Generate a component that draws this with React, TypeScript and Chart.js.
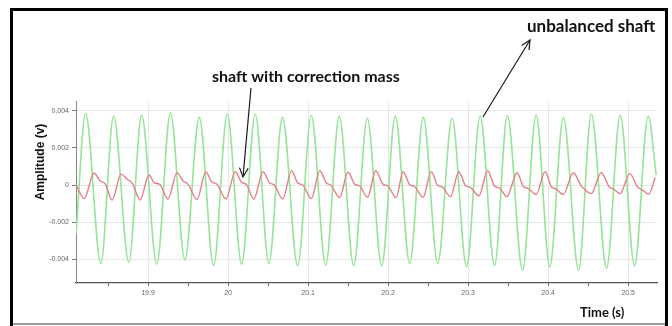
import React, { useEffect, useRef } from 'react';
import { Chart, registerables } from 'chart.js';
Chart.register(...registerables);

// Unbalanced shaft (green) – peak / trough readings
const greenTime = [19.810, 19.822, 19.841, 19.857, 19.876, 19.892, 19.911, 19.928, 19.946, 19.964, 19.982, 19.999, 20.017, 20.034, 20.051, 20.068, 20.087, 20.104, 20.122, 20.139, 20.157, 20.174, 20.192, 20.209, 20.227, 20.244, 20.262, 20.280, 20.298, 20.315, 20.333, 20.349, 20.368, 20.385, 20.402, 20.419, 20.438, 20.454, 20.473, 20.490, 20.508, 20.525, 20.535];
const greenAmp = [-0.00264, 0.00386, -0.00422, 0.00372, -0.00417, 0.00376, -0.00426, 0.00390, -0.00404, 0.00365, -0.00435, 0.00383, -0.00426, 0.00383, -0.00422, 0.00365, -0.00435, 0.00376, -0.00431, 0.00372, -0.00435, 0.00360, -0.00435, 0.00372, -0.00422, 0.00365, -0.00422, 0.00360, -0.00440, 0.00372, -0.00435, 0.00375, -0.00458, 0.00377, -0.00440, 0.00365, -0.00458, 0.00383, -0.00449, 0.00377, -0.00435, 0.00372, 0.00054];

// Shaft with correction mass (red)
const redTime = [19.8102,
  19.8202, 19.8326, 19.8401, 19.8464, 19.8551, 19.8663, 19.8744, 19.8807,
  19.8900, 19.9012, 19.9081, 19.9143, 19.9249, 19.9362, 19.9437, 19.9499,
  19.9611, 19.9723, 19.9798, 19.9861, 19.9973, 20.0091, 20.0166, 20.0229,
  20.0322, 20.0438, 20.0516, 20.0578, 20.0684, 20.0793, 20.0871, 20.0933,
  20.1042, 20.1146, 20.1227, 20.1283, 20.1395, 20.1499, 20.1582, 20.1645,
  20.1744, 20.1844, 20.1935, 20.1998, 20.2100, 20.2187, 20.2268, 20.2331,
  20.2437, 20.2539, 20.2617, 20.2680, 20.2780, 20.2883, 20.2967, 20.3029,
  20.3135, 20.3245, 20.3328, 20.3391, 20.3484, 20.3612, 20.3690, 20.3753,
  20.3849, 20.3961, 20.4039, 20.4102, 20.4189, 20.4314, 20.4408, 20.4464,
  20.4538, 20.4663, 20.4763, 20.4825, 20.4900, 20.5019, 20.5116, 20.5187,
  20.5256, 20.5337];
const redAmp = [0,
  -0.00073, 0.00065, 0.00022, 0.00008, -0.00081, 0.00059, 0.00030, 0.00008,
  -0.00081, 0.00054, 0.00011, 0.00005, -0.00075, 0.00067, 0.00022, 0.00005,
  -0.00078, 0.00070, 0.00016, 0.00005, -0.00075, 0.00072, 0.00016, 0.00003,
  -0.00075, 0.00072, 0.00013, 0, -0.00075, 0.00077, 0.00011, 0,
  -0.00073, 0.00077, 0.00012, 0, -0.00067, 0.00070, 0.00005, -0.00005,
  -0.00066, 0.00077, 0.00005, -0.00005, -0.00067, 0.00072, 0.00003, -0.00008,
  -0.00066, 0.00072, 0, -0.00011, -0.00063, 0.00072, -0.00003, -0.00013,
  -0.00058, 0.00077, -0.00005, -0.00016, -0.00063, 0.00066, -0.00008, -0.00019,
  -0.00051, 0.00072, -0.00008, -0.00022, -0.00051, 0.00066, 0, -0.00027,
  -0.00046, 0.00066, -0.00009, -0.00024, -0.00046, 0.00063, -0.00009, -0.00030,
  -0.00049, 0.00040];

const xMajorTicks = [19.9, 20, 20.1, 20.2, 20.3, 20.4, 20.5];
const xMajorLabels = ['19.9', '20', '20.1', '20.2', '20.3', '20.4', '20.5'];
const xMinorTicks = [19.85, 19.95, 20.05, 20.15, 20.25, 20.35, 20.45];
const yTicks = [-0.004, -0.002, 0, 0.002, 0.004];
const yLabels = ['-0.004', '-0.002', '0', '0.002', '0.004'];

const yTitle = 'Amplitude (v)';
const xTitle = 'Time (s)';
const noteRed = 'shaft with correction mass';
const noteGreen = 'unbalanced shaft';

const isMajor = (v: number) => xMajorTicks.some(m => Math.abs(m - v) < 1e-6);

function arrow(ctx: CanvasRenderingContext2D, x1: number, y1: number, x2: number, y2: number) {
  ctx.beginPath();
  ctx.moveTo(x1, y1);
  ctx.lineTo(x2, y2);
  ctx.stroke();
  const a = Math.atan2(y2 - y1, x2 - x1);
  const l = 10, w = 0.45;
  ctx.beginPath();
  ctx.moveTo(x2 - l * Math.cos(a - w), y2 - l * Math.sin(a - w));
  ctx.lineTo(x2, y2);
  ctx.lineTo(x2 - l * Math.cos(a + w), y2 - l * Math.sin(a + w));
  ctx.stroke();
}

const decor = {
  id: 'decor',
  afterDraw(chart: any) {
    const ctx: CanvasRenderingContext2D = chart.ctx;
    ctx.save();
    // frame
    ctx.fillStyle = '#000';
    ctx.fillRect(10, 8, 658, 3);
    ctx.fillRect(10, 8, 3, 318);
    ctx.fillRect(665, 8, 3, 318);
    ctx.fillStyle = '#9a9a9a';
    ctx.fillRect(13, 323, 652, 2);
    // texts
    ctx.fillStyle = '#111';
    ctx.textBaseline = 'middle';
    ctx.textAlign = 'left';
    ctx.font = 'bold 17px Lato';
    ctx.fillText(noteGreen, 527, 27);
    ctx.font = 'bold 16px Lato';
    ctx.fillText(noteRed, 212, 77);
    ctx.font = 'bold 13px Lato';
    ctx.fillText(xTitle, 580, 313);
    ctx.save();
    ctx.translate(41, 162);
    ctx.rotate(-Math.PI / 2);
    ctx.textAlign = 'center';
    ctx.font = 'bold 12px "Liberation Sans"';
    ctx.fillText(yTitle, 0, 0);
    ctx.restore();
    // arrows
    ctx.strokeStyle = '#1a1a1a';
    ctx.lineWidth = 1.2;
    arrow(ctx, 251, 88, 243, 177);
    arrow(ctx, 483, 117, 530, 40);
    ctx.restore();
  },
};

export default function App() {
  const ref = useRef<HTMLCanvasElement>(null);
  useEffect(() => {
    document.body.style.margin = '0';
    document.body.style.overflow = 'hidden';
    const chart = new Chart(ref.current!, {
      type: 'line',
      data: {
        datasets: [
          {
            label: 'shaft with correction mass',
            data: redTime.map((t, i) => ({ x: t, y: redAmp[i] })),
            borderColor: 'rgb(228,128,138)',
            borderWidth: 1.4,
            pointRadius: 0,
            cubicInterpolationMode: 'monotone',
            fill: false,
          },
          {
            label: 'unbalanced shaft',
            data: greenTime.map((t, i) => ({ x: t, y: greenAmp[i] })),
            borderColor: 'rgb(150,228,150)',
            borderWidth: 1.6,
            pointRadius: 0,
            cubicInterpolationMode: 'monotone',
            fill: false,
          },
        ],
      },
      options: {
        animation: false,
        responsive: false,
        maintainAspectRatio: false,
        layout: { padding: { top: 101, right: 15, left: 0, bottom: 0 } },
        plugins: { legend: { display: false }, tooltip: { enabled: false } },
        scales: {
          x: {
            type: 'linear',
            min: 19.81,
            max: 20.536,
            afterFit: (s: any) => { s.height = 43; },
            afterBuildTicks: (s: any) => {
              s.ticks = [...xMajorTicks, ...xMinorTicks].sort((a, b) => a - b).map(v => ({ value: v }));
            },
            ticks: {
              autoSkip: false,
              maxRotation: 0,
              padding: 3,
              color: '#666',
              font: { family: 'Liberation Sans', size: 7 },
              callback: (v: any) => {
                const i = xMajorTicks.findIndex(m => Math.abs(m - v) < 1e-6);
                return i >= 0 ? xMajorLabels[i] : '';
              },
            },
            grid: {
              color: (c: any) => (c.tick && isMajor(c.tick.value) ? '#e6e6e6' : 'rgba(0,0,0,0)'),
              tickColor: '#666',
              tickLength: 3,
              lineWidth: 1,
            },
            border: { color: '#555', width: 1.2 },
          },
          y: {
            type: 'linear',
            min: -0.00528,
            max: 0.00453,
            afterFit: (s: any) => { s.width = 76; },
            afterBuildTicks: (s: any) => {
              s.ticks = yTicks.map(v => ({ value: v }));
            },
            ticks: {
              autoSkip: false,
              padding: 3,
              color: '#666',
              font: { family: 'Liberation Sans', size: 7 },
              callback: (v: any) => {
                const i = yTicks.findIndex(m => Math.abs(m - v) < 1e-9);
                return i >= 0 ? yLabels[i] : '';
              },
            },
            grid: { color: '#e6e6e6', tickColor: '#777', tickLength: 4, lineWidth: 1 },
            border: { color: '#888', width: 1 },
          },
        },
      },
      plugins: [decor],
    });
    return () => chart.destroy();
  }, []);
  return <canvas ref={ref} width={672} height={326} style={{ display: 'block' }} />;
}
